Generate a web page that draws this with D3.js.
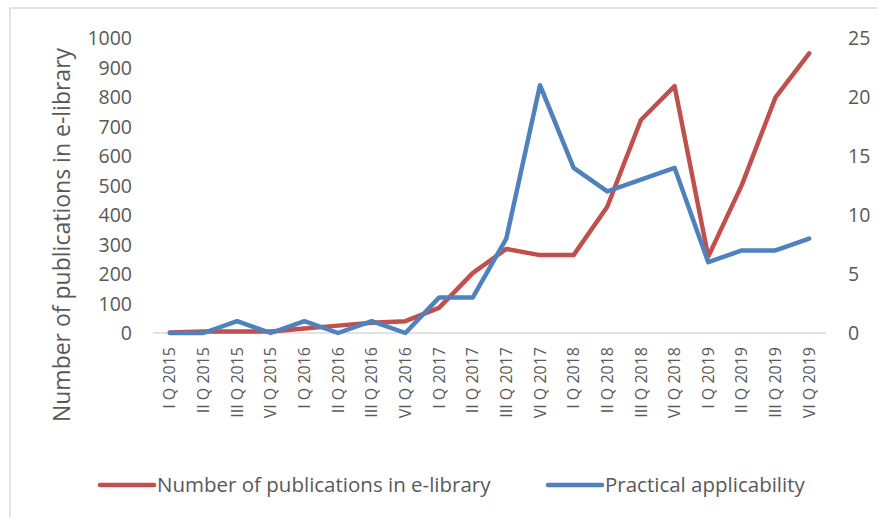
<!DOCTYPE html>
<html>
<head>
<meta charset="utf-8">
<script src="https://cdn.jsdelivr.net/npm/d3@7"></script>
<style>
  body { margin: 0; background: #fff; }
  text { font-family: "Open Sans", sans-serif; fill: #595959; }
</style>
</head>
<body>
<svg id="chart" width="877" height="517"></svg>
<script>
const quarters = ['I Q 2015', 'II Q 2015', 'III Q 2015', 'VI Q 2015',
    'I Q 2016', 'II Q 2016', 'III Q 2016', 'VI Q 2016',
    'I Q 2017', 'II Q 2017', 'III Q 2017', 'VI Q 2017',
    'I Q 2018', 'II Q 2018', 'III Q 2018', 'VI Q 2018',
    'I Q 2019', 'II Q 2019', 'III Q 2019', 'VI Q 2019'];
const publications = [2, 5, 5, 5, 15, 25, 35, 40, 85, 203, 285, 264, 264, 428, 722, 837, 259, 502, 799, 948];
const applicability = [0, 0, 1, 0, 1, 0, 1, 0, 3, 3, 8, 21, 14, 12, 13, 14, 6, 7, 7, 8];
const leftTicks = [0, 100, 200, 300, 400, 500, 600, 700, 800, 900, 1000];
const rightTicks = [0, 5, 10, 15, 20, 25];

const config = {
    left: 153,
    right: 826,
    top: 38,
    bottom: 333
};
const red = '#C0504D', blue = '#4F81BD';

let svg = d3.select('#chart');

// chart frame (only top and left show in the crop)
svg.append('rect')
    .attr('x', 10).attr('y', 8)
    .attr('width', 900).attr('height', 600)
    .attr('fill', 'none')
    .attr('stroke', '#D9D9D9')
    .attr('stroke-width', 1.5);

// scales
let xScale = d3.scaleBand()
    .domain(quarters)
    .range([config.left, config.right]);

let yLeft = d3.scaleLinear()
    .domain([0, 1000])
    .range([config.bottom, config.top]);

let yRight = d3.scaleLinear()
    .domain([0, 25])
    .range([config.bottom, config.top]);

const cx = d => xScale(d) + xScale.bandwidth() / 2;

// baseline
svg.append('line')
    .attr('x1', config.left).attr('x2', config.right)
    .attr('y1', config.bottom).attr('y2', config.bottom)
    .attr('stroke', '#D9D9D9').attr('stroke-width', 1.5);

// left axis
let gl = svg.append('g')
    .attr('transform', 'translate(' + (config.left - 21) + ',0)')
    .call(d3.axisLeft(yLeft).tickValues(leftTicks).tickFormat(d3.format('d')).tickSize(0).tickPadding(0));
gl.select('.domain').remove();
gl.selectAll('text').style('font-size', '19.5px').attr('dy', '0.35em');

// right axis
let gr = svg.append('g')
    .attr('transform', 'translate(' + (config.right + 22) + ',0)')
    .call(d3.axisRight(yRight).tickValues(rightTicks).tickSize(0).tickPadding(0));
gr.select('.domain').remove();
gr.selectAll('text').style('font-size', '19.5px').attr('dy', '0.35em');

// bottom axis, rotated labels
let gx = svg.append('g')
    .attr('transform', 'translate(0,' + config.bottom + ')')
    .call(d3.axisBottom(xScale).tickSize(0).tickPadding(0));
gx.select('.domain').remove();
gx.selectAll('text')
    .style('font-size', '16px')
    .attr('text-anchor', 'end')
    .attr('dy', '0.35em')
    .attr('transform', 'translate(0,14) rotate(-90)');

// y title
svg.append('text')
    .attr('transform', 'translate(62,235) rotate(-90)')
    .attr('text-anchor', 'middle')
    .attr('dy', '0.35em')
    .style('font-size', '23px')
    .text('Number of publications in e-library');

// lines
const lineLeft = d3.line().x((d, i) => cx(quarters[i])).y(d => yLeft(d));
const lineRight = d3.line().x((d, i) => cx(quarters[i])).y(d => yRight(d));

svg.append('path')
    .datum(publications)
    .attr('d', lineLeft)
    .attr('fill', 'none')
    .attr('stroke', red)
    .attr('stroke-width', 4.5)
    .attr('stroke-linejoin', 'round')
    .attr('stroke-linecap', 'round');

svg.append('path')
    .datum(applicability)
    .attr('d', lineRight)
    .attr('fill', 'none')
    .attr('stroke', blue)
    .attr('stroke-width', 4.5)
    .attr('stroke-linejoin', 'round')
    .attr('stroke-linecap', 'round');

// legend
const legend = [
    {name: 'Number of publications in e-library', color: red, x: 100},
    {name: 'Practical applicability', color: blue, x: 548}
];
let lg = svg.selectAll('.legend')
    .data(legend)
    .enter()
    .append('g')
    .attr('transform', d => 'translate(' + d.x + ',485)');
lg.append('line')
    .attr('x1', 0).attr('x2', 54)
    .attr('stroke', d => d.color)
    .attr('stroke-width', 4.5)
    .attr('stroke-linecap', 'round');
lg.append('text')
    .attr('x', 57)
    .attr('dy', '0.35em')
    .style('font-size', '20.5px')
    .text(d => d.name);
</script>
</body>
</html>
